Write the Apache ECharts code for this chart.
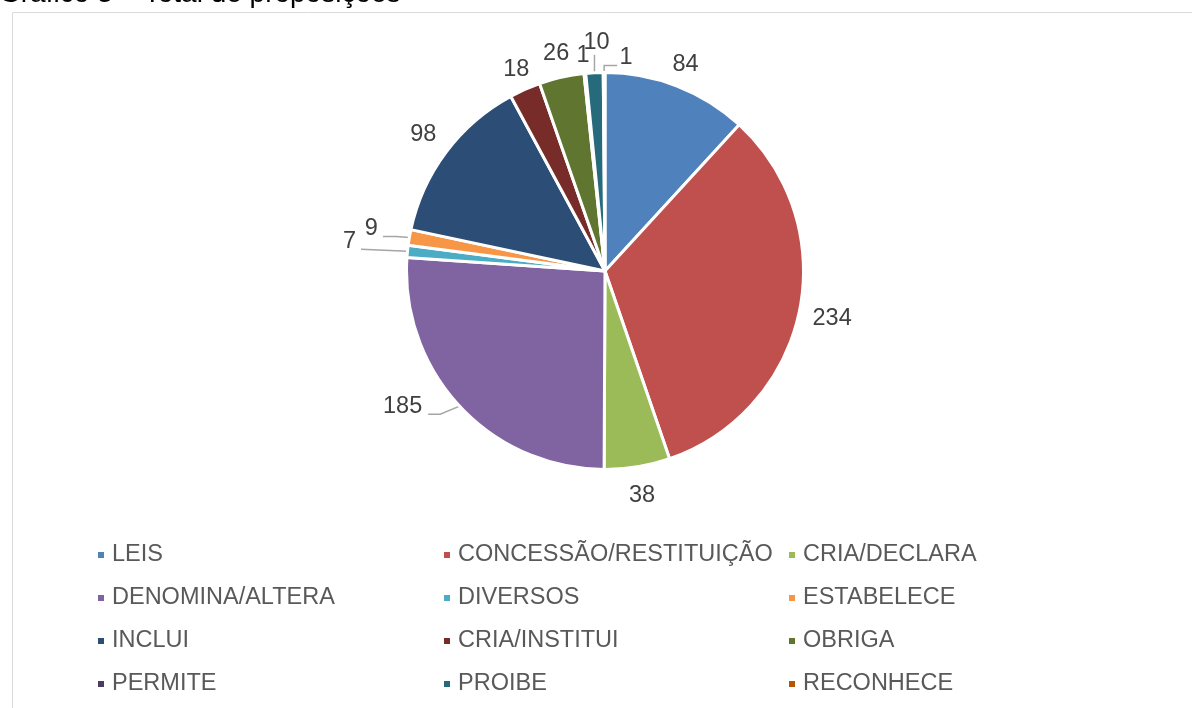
<!DOCTYPE html>
<html>
<head>
<meta charset="utf-8">
<script src="https://cdn.jsdelivr.net/npm/echarts@6/dist/echarts.min.js"></script>
<style>
html,body{margin:0;padding:0;background:#fff;}
#chart{width:1192px;height:708px;}
</style>
</head>
<body>
<div id="chart"></div>
<script>
// ---- data ----
const categories = ['LEIS','CONCESSÃO/RESTITUIÇÃO','CRIA/DECLARA','DENOMINA/ALTERA','DIVERSOS','ESTABELECE','INCLUI','CRIA/INSTITUI','OBRIGA','PERMITE','PROIBE','RECONHECE'];
const values = [84,234,38,185,7,9,98,18,26,1,10,1];

// ---- styles (kept apart from the data) ----
const colors = ['#4F81BD','#C0504D','#9BBB59','#8064A2','#4BACC6','#F79646','#2C4D75','#772C2A','#5F7530','#4D3B62','#276A7C','#B65708'];
// label placement: {d} = radial distance of label centre from pie centre (no leader),
// {dx,dy,line} = offset of label centre from the slice edge point, with a leader line
const labelPlace = [
  {d:222}, {d:232}, {d:228},
  {dx:-57, dy:0, line:'left-elbow'},
  {dx:-58, dy:-10, line:'left'},
  {dx:-38, dy:-9, line:'left'},
  {d:227}, {d:220}, {d:223}, {d:217},
  {dx:2, dy:-30, line:'up'},
  {dx:22, dy:-15, line:'up-right'}
];
const legendCols = [
  ['LEIS','DENOMINA/ALTERA','INCLUI','PERMITE'],
  ['CONCESSÃO/RESTITUIÇÃO','DIVERSOS','CRIA/INSTITUI','PROIBE'],
  ['CRIA/DECLARA','ESTABELECE','OBRIGA','RECONHECE']
];
const legendLeft = [91, 437, 782];

const font = '"Liberation Sans", Arial, sans-serif';
const chart = echarts.init(document.getElementById('chart'));
const data = categories.map((c,i)=>({
  name:c, value:values[i],
  itemStyle:{color:colors[i]},
  labelLine:{show: labelPlace[i].line !== undefined}
}));

function labelLayout(params){
  const i = params.dataIndex;
  const lay = chart.getModel().getSeriesByIndex(0).getData().getItemLayout(i);
  if (!lay) return {};
  const mid = (lay.startAngle + lay.endAngle) / 2;
  const ux = Math.cos(mid), uy = Math.sin(mid);
  const p = labelPlace[i];
  if (p.d !== undefined) {
    return {x: lay.cx + p.d*ux, y: lay.cy + p.d*uy, align:'center', verticalAlign:'middle'};
  }
  const ex = lay.cx + lay.r*ux, ey = lay.cy + lay.r*uy;
  const lx = ex + p.dx, ly = ey + p.dy;
  const w = params.labelRect.width;
  let pts;
  if (p.line === 'left-elbow') {
    pts = [[ex,ey],[lx + w/2 + 18, ly + 8],[lx + w/2 + 6, ly + 8]];
  } else if (p.line === 'left') {
    pts = [[ex,ey],[(ex + lx + w/2 + 5)/2, ey - 1],[lx + w/2 + 5, ly + 8]];
  } else if (p.line === 'up') {
    pts = [[ex,ey],[ex, ly + 12]];
  } else {
    pts = [[ex,ey],[ex, ly + 8],[lx - 9, ly + 8]];
  }
  return {x: lx, y: ly, align:'center', verticalAlign:'middle', labelLinePoints: pts};
}

chart.setOption({
  animation:false,
  color:colors,
  graphic:[
    {type:'rect', shape:{x:12.5,y:12.5,width:1200,height:720}, style:{fill:'none',stroke:'#d9d9d9',lineWidth:1}},
    {type:'text', x:-1, y:-19.5, style:{text:'Gráfico 3 – Total de proposições', font:'28px '+font, fill:'#000'}}
  ],
  legend: legendCols.map((col,i)=>({
    orient:'vertical', left:legendLeft[i], top:536,
    data:col, icon:'rect', itemWidth:8, itemHeight:8, itemGap:15,
    textStyle:{fontSize:23.5, fontFamily:font, color:'#595959', lineHeight:28, padding:[0,0,0,2]},
    selectedMode:false
  })),
  series:[{
    type:'pie',
    center:[605,271], radius:198.5,
    startAngle:90, clockwise:true,
    avoidLabelOverlap:false,
    minShowLabelAngle:0,
    data:data,
    itemStyle:{borderColor:'#fff', borderWidth:3},
    label:{show:true, position:'outside', formatter:'{c}', fontSize:23.5, fontFamily:font, color:'#404040'},
    labelLine:{length:10, length2:10, smooth:false, lineStyle:{color:'#a6a6a6', width:1.5}},
    labelLayout: labelLayout
  }]
});
</script>
</body>
</html>
